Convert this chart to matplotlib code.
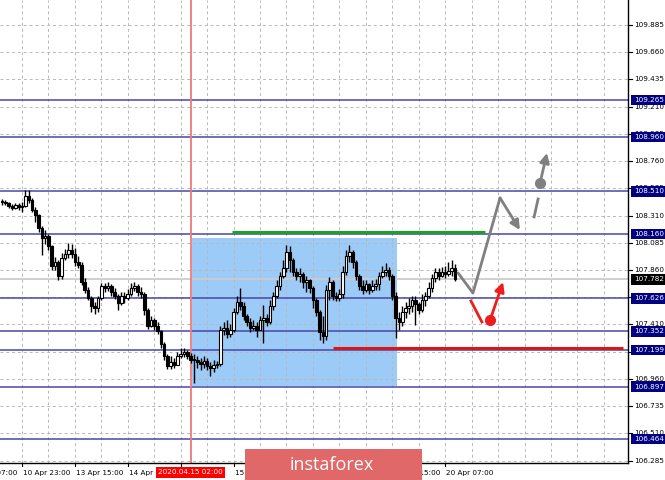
import numpy as np
import matplotlib
matplotlib.use("Agg")
import matplotlib.pyplot as plt
from matplotlib.patches import Rectangle
from matplotlib.transforms import blended_transform_factory

# H1 bars, index 0 = 10 Apr 23:00
bar_idx = np.arange(-6, 132)
first_open = 108.431

closes = [108.423, 108.414, 108.390, 108.373, 108.398, 108.381, 108.390, 108.472,
          108.439, 108.356, 108.315, 108.208, 108.125, 108.142, 108.059, 107.894,
          107.927, 107.811, 107.960, 107.993, 108.026, 107.993, 107.927, 107.902,
          107.761, 107.695, 107.629, 107.563, 107.546, 107.629, 107.728, 107.712,
          107.728, 107.679, 107.646, 107.588, 107.646, 107.629, 107.662, 107.712,
          107.728, 107.679, 107.662, 107.530, 107.398, 107.447, 107.398, 107.356,
          107.249, 107.150, 107.067, 107.100, 107.075, 107.150, 107.166, 107.183,
          107.150, 107.117, 107.117, 107.100, 107.084, 107.108, 107.067, 107.051,
          107.075, 107.084, 107.365, 107.381, 107.331, 107.365, 107.513, 107.596,
          107.563, 107.480, 107.431, 107.381, 107.398, 107.365, 107.447, 107.464,
          107.431, 107.563, 107.646, 107.728, 107.811, 107.877, 108.009, 107.943,
          107.844, 107.811, 107.827, 107.761, 107.778, 107.712, 107.613, 107.513,
          107.348, 107.315, 107.695, 107.761, 107.646, 107.629, 107.662, 107.844,
          107.976, 108.009, 107.927, 107.811, 107.728, 107.695, 107.745, 107.695,
          107.728, 107.745, 107.811, 107.844, 107.861, 107.811, 107.646, 107.464,
          107.431, 107.513, 107.546, 107.563, 107.613, 107.579, 107.530, 107.613,
          107.646, 107.712, 107.794, 107.844, 107.811, 107.844, 107.827, 107.852,
          107.877, 107.782]

highs = [108.447, 108.439, 108.423, 108.406, 108.414, 108.414, 108.423, 108.522,
         108.522, 108.456, 108.381, 108.323, 108.224, 108.191, 108.158, 108.067,
         107.968, 107.943, 108.001, 108.034, 108.084, 108.075, 108.042, 107.976,
         107.927, 107.794, 107.720, 107.646, 107.596, 107.646, 107.753, 107.753,
         107.761, 107.745, 107.712, 107.662, 107.679, 107.679, 107.703, 107.753,
         107.761, 107.745, 107.720, 107.679, 107.546, 107.480, 107.464, 107.431,
         107.365, 107.265, 107.166, 107.150, 107.133, 107.183, 107.216, 107.216,
         107.199, 107.175, 107.166, 107.150, 107.133, 107.150, 107.133, 107.100,
         107.117, 107.108, 107.398, 107.431, 107.447, 107.414, 107.546, 107.646,
         107.712, 107.596, 107.497, 107.464, 107.447, 107.431, 107.480, 107.571,
         107.497, 107.613, 107.679, 107.778, 107.844, 107.943, 108.067, 108.059,
         107.960, 107.877, 107.877, 107.844, 107.811, 107.786, 107.728, 107.629,
         107.530, 107.480, 107.737, 107.803, 107.778, 107.679, 107.703, 107.894,
         108.026, 108.067, 108.026, 107.943, 107.827, 107.778, 107.778, 107.753,
         107.778, 107.786, 107.844, 107.894, 107.918, 107.885, 107.827, 107.679,
         107.513, 107.563, 107.596, 107.629, 107.646, 107.646, 107.596, 107.662,
         107.679, 107.761, 107.827, 107.877, 107.877, 107.885, 107.894, 107.927,
         107.943, 107.910]

lows = [108.398, 108.398, 108.373, 108.356, 108.365, 108.356, 108.340, 108.381,
        108.414, 108.340, 108.257, 108.175, 107.985, 108.075, 108.026, 107.861,
        107.861, 107.778, 107.786, 107.943, 107.960, 107.960, 107.894, 107.877,
        107.737, 107.670, 107.613, 107.513, 107.497, 107.513, 107.613, 107.679,
        107.687, 107.646, 107.621, 107.530, 107.571, 107.588, 107.613, 107.646,
        107.687, 107.646, 107.629, 107.489, 107.373, 107.389, 107.365, 107.331,
        107.216, 107.117, 107.042, 107.042, 107.051, 107.100, 107.133, 107.142,
        107.125, 107.092, 106.927, 107.051, 107.034, 107.051, 107.034, 106.985,
        107.018, 107.051, 107.067, 107.323, 107.298, 107.307, 107.348, 107.497,
        107.530, 107.447, 107.398, 107.348, 107.365, 107.307, 107.381, 107.257,
        107.398, 107.414, 107.530, 107.629, 107.695, 107.794, 107.844, 107.844,
        107.811, 107.778, 107.761, 107.712, 107.679, 107.670, 107.546, 107.480,
        107.282, 107.257, 107.282, 107.613, 107.613, 107.604, 107.604, 107.629,
        107.819, 107.927, 107.877, 107.778, 107.695, 107.662, 107.679, 107.662,
        107.679, 107.695, 107.695, 107.794, 107.811, 107.778, 107.613, 107.298,
        107.365, 107.398, 107.464, 107.497, 107.513, 107.406, 107.497, 107.513,
        107.563, 107.629, 107.679, 107.761, 107.778, 107.803, 107.794, 107.811,
        107.811, 107.770]

levels = [109.265, 108.960, 108.510, 108.160, 107.626, 107.352, 107.199, 106.897, 106.464]
current_price = 107.782
price_ticks = [106.285, 106.510, 106.735, 106.960, 107.185, 107.410, 107.635, 107.860,
               108.085, 108.310, 108.535, 108.760, 108.985, 109.210, 109.435, 109.660, 109.885]
# tick labels that sit fully under a level box
hidden_ticks = [107.185, 107.635]

time_pos = [-16, 0, 16, 32, 64, 112, 128]
time_labels = ["10 Apr 07:00", "10 Apr 23:00", "13 Apr 15:00", "14 Apr 07:00",
               "15 Apr 15:00", "17 Apr 15:00", "20 Apr 07:00"]
tick_pos = [0, 16, 32, 48, 64, 80, 96, 112, 128]
grid_x = list(range(0, 184, 8))

marker_bar = 51  # 2020.04.15 02:00
box_bars = (51.3, 113.4)
box_prices = (106.902, 108.125)
green_bars = (63.5, 140.0)
green_price = 108.175
red_bars = (94.0, 181.8)
red_price = 107.216

# forecast paths (bar, price)
grey_path_x = [131.9, 136.4, 144.6, 150.6]
grey_path_y = [107.836, 107.670, 108.456, 108.191]
grey_alt_x = [154.9, 156.1, 156.7, 158.8]
grey_alt_y = [108.299, 108.447, 108.580, 108.828]
red_path_x = [135.8, 139.1, 141.6, 145.5]
red_path_y = [107.604, 107.431, 107.447, 107.761]

NAVY = "#000080"
LEVEL = "#4848a8"
GRID = "#b8b8b8"
GREY_ARROW = "#808080"
RED_ARROW = "#ee1c1c"

fig = plt.figure(figsize=(6.65, 4.8), dpi=100)
ax = fig.add_axes([0, 17 / 480, 628 / 665, 463 / 480])
ax.set_xlim(-6.655, 183.3)
ax.set_ylim(106.265, 110.092)

for s in ["top", "left"]:
    ax.spines[s].set_visible(False)
ax.spines["right"].set_linewidth(1.0)
ax.spines["bottom"].set_linewidth(1.0)
ax.set_xticks([])
ax.set_yticks([])

# grid
for p in price_ticks:
    ax.axhline(p, color=GRID, lw=0.7, ls=(0, (3, 3)), zorder=1)
for g in grid_x:
    ax.axvline(g, color=GRID, lw=0.7, ls=(0, (3, 3)), zorder=1)

# blue box
ax.add_patch(Rectangle((box_bars[0], box_prices[0]), box_bars[1] - box_bars[0],
                       box_prices[1] - box_prices[0], facecolor="#9dcbf7",
                       edgecolor="none", zorder=0.5))

# horizontal levels
for lv in levels:
    ax.axhline(lv, color=LEVEL, lw=1.1, zorder=2)
ax.axhline(current_price, color="#cccccc", lw=1.3, zorder=1.5)

ax.axvline(marker_bar, color="#f07878", lw=1.3, zorder=2)

ax.plot(green_bars, [green_price, green_price], color="#1e9e2e", lw=2.2, zorder=3,
        solid_capstyle="butt")
ax.plot(red_bars, [red_price, red_price], color="#d81818", lw=2.2, zorder=3,
        solid_capstyle="butt")

# candles
opens = [first_open] + closes[:-1]
for x, o, h, l, c in zip(bar_idx, opens, highs, lows, closes):
    ax.vlines(x, l, h, color="black", lw=1.0, zorder=4)
    bottom = min(o, c)
    height = max(abs(c - o), 0.005)
    face = "white" if c >= o else "black"
    ax.bar(x, height, bottom=bottom, width=0.8, color=face, edgecolor="black",
           linewidth=0.8, zorder=5)

# forecast arrows
ax.plot(grey_path_x[:3], grey_path_y[:3], color=GREY_ARROW, lw=2, zorder=6,
        solid_capstyle="round")
ax.annotate("", xy=(grey_path_x[3], grey_path_y[3]),
            xytext=(grey_path_x[2], grey_path_y[2]),
            arrowprops=dict(arrowstyle="-|>", color=GREY_ARROW, lw=2,
                            mutation_scale=14, shrinkA=0, shrinkB=0), zorder=6)
ax.plot(grey_alt_x[:2], grey_alt_y[:2], color=GREY_ARROW, lw=2, zorder=6)
ax.plot(grey_alt_x[2], grey_alt_y[2], "o", color=GREY_ARROW, ms=7, zorder=6)
ax.annotate("", xy=(grey_alt_x[3], grey_alt_y[3]),
            xytext=(grey_alt_x[2], grey_alt_y[2]),
            arrowprops=dict(arrowstyle="-|>", color=GREY_ARROW, lw=2,
                            mutation_scale=14, shrinkA=0, shrinkB=0), zorder=6)

ax.plot(red_path_x[:2], red_path_y[:2], color=RED_ARROW, lw=2, zorder=6)
ax.plot(red_path_x[2], red_path_y[2], "o", color=RED_ARROW, ms=7, zorder=6)
ax.annotate("", xy=(red_path_x[3], red_path_y[3]),
            xytext=(red_path_x[2], red_path_y[2]),
            arrowprops=dict(arrowstyle="-|>", color=RED_ARROW, lw=2,
                            mutation_scale=14, shrinkA=0, shrinkB=0), zorder=6)

# right price scale
ytrans = blended_transform_factory(ax.transAxes, ax.transData)
for p in price_ticks:
    ax.plot([1.0, 1.006], [p, p], color="black", lw=0.8, transform=ytrans,
            clip_on=False)
    if p in hidden_ticks:
        continue
    ax.text(1.009, p, f"{p:.3f}", transform=ytrans, fontsize=5.2, va="center",
            ha="left", clip_on=False, zorder=7)
for lv in levels:
    ax.text(1.009, lv, f"{lv:.3f}", transform=ytrans, fontsize=5.2, va="center",
            ha="left", color="white", clip_on=False, zorder=8,
            bbox=dict(boxstyle="square,pad=0.3", fc=NAVY, ec="none"))
ax.text(1.009, current_price, f"{current_price:.3f}", transform=ytrans, fontsize=5.2,
        va="center", ha="left", color="white", clip_on=False, zorder=8,
        bbox=dict(boxstyle="square,pad=0.3", fc="black", ec="none"))

# bottom time scale
xtrans = ax.get_xaxis_transform()
for tp in tick_pos:
    ax.plot([tp, tp], [0, -0.007], color="black", lw=0.8, transform=xtrans,
            clip_on=False)
for tp, tl in zip(time_pos, time_labels):
    ax.text(tp + 0.3, -0.016, tl, transform=xtrans, fontsize=5.2, va="top",
            ha="left", clip_on=False, zorder=7)
ax.text(marker_bar, -0.014, "2020.04.15 02:00", transform=xtrans, fontsize=5.2,
        va="top", ha="center", color="white", clip_on=False, zorder=9,
        bbox=dict(boxstyle="square,pad=0.3", fc="#ff0000", ec="none"))

# watermark
fig.patches.append(Rectangle((245 / 665, 0), 177 / 665, 31 / 480,
                             transform=fig.transFigure, facecolor="#e06868",
                             edgecolor="none", zorder=10))
fig.text(332 / 665, 15 / 480, "instaforex", color="white", fontsize=13,
         family="Open Sans", ha="center", va="center", zorder=11)

fig.savefig("out.png", dpi=100, facecolor="white")
